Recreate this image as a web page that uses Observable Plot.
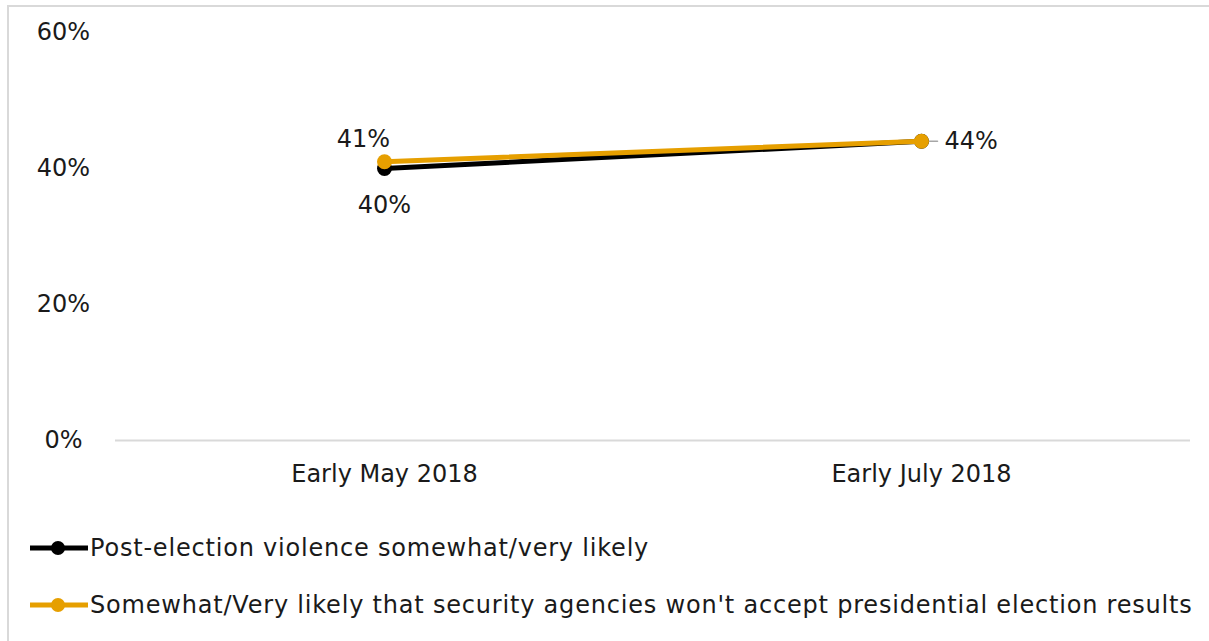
<!DOCTYPE html>
<html>
<head>
<meta charset="utf-8">
<script src="https://cdn.jsdelivr.net/npm/d3@7"></script>
<script src="https://cdn.jsdelivr.net/npm/@observablehq/plot@0.6"></script>
<style>
  html, body { margin: 0; padding: 0; background: #fff; overflow: hidden; }
  body { width: 1209px; height: 641px; position: relative; font-family: "DejaVu Sans", sans-serif; }
  #frame { position: absolute; left: 7px; top: 5px; width: 1230px; height: 660px; border: 2px solid #d9d9d9; box-sizing: border-box; }
  #chart { position: absolute; left: 0; top: 0; }
  #legend { position: absolute; left: 0; top: 525px; }
  .row { position: absolute; left: 30px; height: 40px; display: flex; align-items: center; white-space: nowrap; font-size: 24px; letter-spacing: 0.8px; color: #1a1a1a; }
  .row svg { margin-right: 2px; }
</style>
</head>
<body>
<div id="frame"></div>
<div id="chart"></div>
<div id="legend"></div>
<script>
const categories = ["Early May 2018", "Early July 2018"];
const seriesNames = [
  "Post-election violence somewhat/very likely",
  "Somewhat/Very likely that security agencies won't accept presidential election results"
];
const violenceValues = [40, 44];
const agenciesValues = [41, 44];
const seriesColors = ["#000000", "#E69F00"];
const yTicks = [0, 20, 40, 60];

const data = [];
categories.forEach((c, i) => {
  data.push({cat: c, series: seriesNames[0], value: violenceValues[i]});
});
categories.forEach((c, i) => {
  data.push({cat: c, series: seriesNames[1], value: agenciesValues[i]});
});
const black = data.filter(d => d.series === seriesNames[0]);
const orange = data.filter(d => d.series === seriesNames[1]);

const font = "DejaVu Sans, sans-serif";
const leaderShape = {draw(context, l) { context.moveTo(0, 0); context.lineTo(0, -l); }};

const chart = Plot.plot({
  width: 1209,
  height: 500,
  marginLeft: 115,
  marginRight: 19,
  marginTop: 32,
  marginBottom: 60,
  style: {fontFamily: font, fontSize: "24px", color: "#1a1a1a", background: "transparent"},
  x: {type: "point", domain: categories, padding: 0.5, label: null},
  y: {domain: [0, 60], label: null},
  marks: [
    Plot.axisY({ticks: yTicks, tickFormat: d => d + "%", tickSize: 0, tickPadding: 52, textAnchor: "middle", fontSize: 24}),
    Plot.axisX({tickSize: 0, tickPadding: 24, fontSize: 24}),
    Plot.ruleY([0], {stroke: "#d9d9d9", strokeWidth: 2}),
    Plot.vector(orange.slice(1), {x: "cat", y: "value", rotate: 90, length: 16, anchor: "start", shape: leaderShape, stroke: "#a6a6a6", strokeWidth: 1.5}),
    Plot.lineY(black, {x: "cat", y: "value", stroke: seriesColors[0], strokeWidth: 5}),
    Plot.dot(black, {x: "cat", y: "value", fill: seriesColors[0], r: 7.5}),
    Plot.lineY(orange, {x: "cat", y: "value", stroke: seriesColors[1], strokeWidth: 5}),
    Plot.dot(orange, {x: "cat", y: "value", fill: seriesColors[1], r: 7.5}),
    Plot.text(black.slice(0, 1), {x: "cat", y: "value", text: d => d.value + "%", dy: 37, fontSize: 24, fill: "#1a1a1a"}),
    Plot.text(orange.slice(0, 1), {x: "cat", y: "value", text: d => d.value + "%", dx: -21, dy: -22, fontSize: 24, fill: "#1a1a1a"}),
    Plot.text(orange.slice(1), {x: "cat", y: "value", text: d => d.value + "%", dx: 23, textAnchor: "start", fontSize: 24, fill: "#1a1a1a"})
  ]
});
document.getElementById("chart").appendChild(chart);

const legend = document.getElementById("legend");
seriesNames.forEach((name, i) => {
  const row = document.createElement("div");
  row.className = "row";
  row.style.top = (i * 57 + 3) + "px";
  const c = seriesColors[i];
  row.innerHTML = `<svg width="58" height="16"><line x1="0" x2="58" y1="8" y2="8" stroke="${c}" stroke-width="5"/><circle cx="28" cy="8" r="7" fill="${c}"/></svg><span>${name}</span>`;
  legend.appendChild(row);
});
</script>
</body>
</html>
